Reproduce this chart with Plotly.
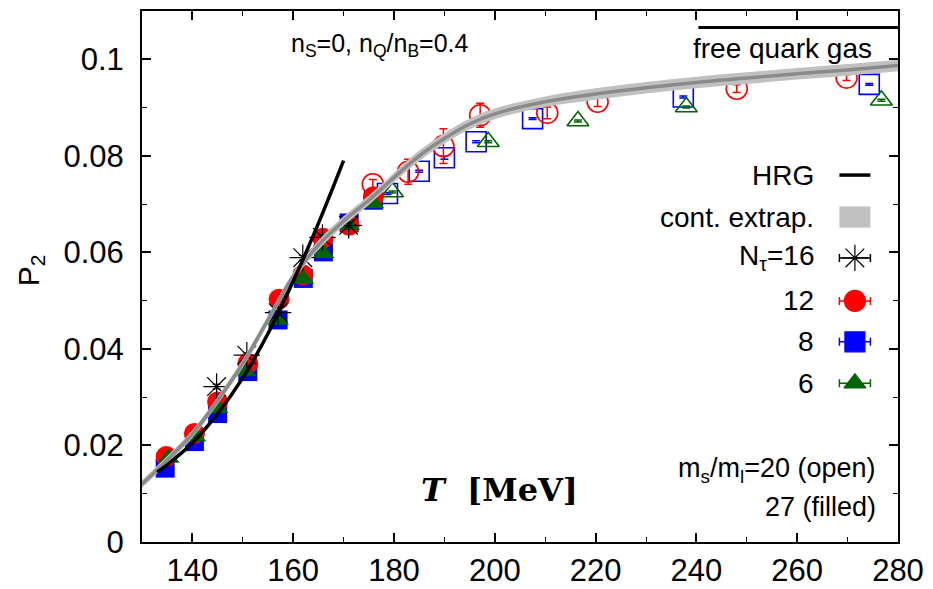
import plotly.graph_objects as go

# ---------------- data ----------------
# continuum extrapolation (band centre and half width)
cont_T = [130, 135, 140, 145, 150, 155, 160, 165, 170, 175, 180, 185, 190, 195, 200,
          210, 220, 230, 240, 250, 260, 270, 280]
cont_P = [0.0120, 0.0170, 0.0224, 0.0293, 0.0370, 0.0460, 0.0550, 0.0615, 0.0665,
          0.0708, 0.0755, 0.0800, 0.0836, 0.0866, 0.0887, 0.0912, 0.0928, 0.0941,
          0.0952, 0.0961, 0.0970, 0.0978, 0.0987]
cont_err = [0.0008, 0.0008, 0.0008, 0.0008, 0.0009, 0.0009, 0.0009, 0.0010, 0.0010,
            0.0010, 0.0010, 0.0011, 0.0011, 0.0011, 0.0011, 0.0011, 0.0012, 0.0012,
            0.0012, 0.0012, 0.0012, 0.0012, 0.0012]

# hadron resonance gas
hrg_T = [133, 135, 140, 145, 150, 155, 160, 165, 170]
hrg_P = [0.0145, 0.0160, 0.0205, 0.0266, 0.0340, 0.0432, 0.0540, 0.0660, 0.0790]

# free quark gas limit
fqg_T = [240.4, 280]
fqg_P = [0.1066, 0.1066]

# ms/ml = 27 (filled)
n16_T = [144.8, 150.8, 157.0, 161.9, 165.8, 171.0]
n16_P = [0.0322, 0.0387, 0.0475, 0.0589, 0.0631, 0.0656]
n16_E = [0.0005, 0.0005, 0.0005, 0.0005, 0.0005, 0.0005]

n12f_T = [134.8, 140.4, 145.0, 151.0, 157.2, 161.9, 165.9, 171.1, 175.9]
n12f_P = [0.0177, 0.0225, 0.0290, 0.0370, 0.0503, 0.0553, 0.0629, 0.0656, 0.0715]
n12f_E = [0.0003, 0.0003, 0.0003, 0.0003, 0.0003, 0.0003, 0.0003, 0.0003, 0.0003]

n8f_T = [134.6, 140.4, 145.0, 151.0, 157.0, 162.0, 166.0, 171.1, 175.9]
n8f_P = [0.0153, 0.0208, 0.0266, 0.0353, 0.0460, 0.0546, 0.0601, 0.0661, 0.0708]
n8f_E = [0.0002, 0.0002, 0.0002, 0.0002, 0.0002, 0.0002, 0.0002, 0.0002, 0.0002]

n6f_T = [135.3, 140.6, 145.0, 150.5, 157.0, 162.0, 166.0, 171.1, 175.9]
n6f_P = [0.0174, 0.0218, 0.0277, 0.0353, 0.0460, 0.0545, 0.0598, 0.0656, 0.0701]
n6f_E = [0.0002, 0.0002, 0.0002, 0.0002, 0.0002, 0.0002, 0.0002, 0.0002, 0.0002]

# ms/ml = 20 (open)
n12o_T = [175.8, 182.8, 189.8, 197.1, 210.4, 220.4, 248.0, 269.8]
n12o_P = [0.0741, 0.0767, 0.0820, 0.0884, 0.0889, 0.0912, 0.0939, 0.0962]
n12o_E = [0.0010, 0.0026, 0.0036, 0.0025, 0.0012, 0.0010, 0.0008, 0.0006]

n8o_T = [178.7, 185.0, 190.0, 196.3, 207.5, 237.4, 274.3]
n8o_P = [0.0722, 0.0768, 0.0796, 0.0829, 0.0877, 0.0922, 0.0948]
n8o_E = [0.0002, 0.0002, 0.0003, 0.0002, 0.0002, 0.0002, 0.0002]

n6o_T = [179.7, 198.7, 216.5, 238.0, 276.7]
n6o_P = [0.0725, 0.0829, 0.0872, 0.0901, 0.0915]
n6o_E = [0.0002, 0.0002, 0.0002, 0.0002, 0.0002]

x_range = [130, 280]
y_range = [0, 0.11]
x_ticks = [140, 160, 180, 200, 220, 240, 260, 280]
y_ticks = [0, 0.02, 0.04, 0.06, 0.08, 0.1]
y_ticklabels = ["0", "0.02", "0.04", "0.06", "0.08", "0.1"]

legend_labels = ["HRG", "cont. extrap.", "N<sub>τ</sub>=16", "12", "8", "6"]

# ---------------- styles ----------------
RED = "#ff0000"
BLUE = "#0000ff"
GREEN = "#006400"
SANS = "Liberation Sans, Arial, sans-serif"
SERIF = "DejaVu Serif, Liberation Serif, serif"

fig = go.Figure()

def err(arr, color, width=1.5, cap=4):
    return dict(type="data", array=arr, visible=True, color=color, thickness=width, width=cap)

# open symbols first
fig.add_trace(go.Scatter(x=n8o_T, y=n8o_P, mode="markers", error_y=err(n8o_E, BLUE),
                         marker=dict(symbol="square-open", size=20, color=BLUE, line=dict(width=1.6))))
fig.add_trace(go.Scatter(x=n6o_T, y=n6o_P, mode="markers", error_y=err(n6o_E, GREEN),
                         marker=dict(symbol="triangle-up-open", size=19, color=GREEN, line=dict(width=1.6))))
fig.add_trace(go.Scatter(x=n12o_T, y=n12o_P, mode="markers", error_y=err(n12o_E, RED),
                         marker=dict(symbol="circle-open", size=21, color=RED, line=dict(width=1.6))))

# filled symbols
fig.add_trace(go.Scatter(x=n8f_T, y=n8f_P, mode="markers", error_y=err(n8f_E, BLUE),
                         marker=dict(symbol="square", size=19, color=BLUE)))
fig.add_trace(go.Scatter(x=n12f_T, y=n12f_P, mode="markers", error_y=err(n12f_E, RED),
                         marker=dict(symbol="circle", size=21, color=RED)))
fig.add_trace(go.Scatter(x=n6f_T, y=n6f_P, mode="markers", error_y=err(n6f_E, GREEN),
                         marker=dict(symbol="triangle-up", size=19, color=GREEN)))
fig.add_trace(go.Scatter(x=n16_T, y=n16_P, mode="markers", error_y=err(n16_E, "black", 1),
                         marker=dict(symbol="asterisk-open", size=22, color="black",
                                     line=dict(width=1.2, color="black"))))

# continuum band
up = [p + e for p, e in zip(cont_P, cont_err)]
lo = [p - e for p, e in zip(cont_P, cont_err)]
fig.add_trace(go.Scatter(x=cont_T, y=lo, mode="lines", line=dict(width=0, color="#c0c0c0", shape="spline"),
                         hoverinfo="skip"))
fig.add_trace(go.Scatter(x=cont_T, y=up, mode="lines", line=dict(width=0, color="#c0c0c0", shape="spline"),
                         fill="tonexty", fillcolor="#c0c0c0", hoverinfo="skip"))
fig.add_trace(go.Scatter(x=cont_T, y=cont_P, mode="lines",
                         line=dict(width=3.5, color="#8a8a8a", shape="spline")))

# HRG
fig.add_trace(go.Scatter(x=hrg_T, y=hrg_P, mode="lines",
                         line=dict(width=3.5, color="black", shape="spline")))
# free quark gas
fig.add_trace(go.Scatter(x=fqg_T, y=fqg_P, mode="lines", line=dict(width=3, color="black")))

# ---------------- legend (manual, gnuplot style) ----------------
leg_x = 0.943          # symbol centre (fraction of plot width)
leg_half = 0.0205      # half length of sample
leg_y = [0.691, 0.612, 0.535, 0.454, 0.377, 0.299]
txt_x = 0.8915

fig.add_trace(go.Scatter(x=[leg_x - leg_half, leg_x + leg_half], y=[leg_y[0]] * 2, mode="lines",
                         line=dict(color="black", width=3.5), xaxis="x2", yaxis="y2"))
fig.add_shape(type="rect", xref="x domain", yref="y domain",
              x0=leg_x - leg_half, x1=leg_x + leg_half, y0=leg_y[1] - 0.02, y1=leg_y[1] + 0.02,
              fillcolor="#c0c0c0", line=dict(width=0))

leg_styles = [
    ("asterisk-open", "black", 22),
    ("circle", RED, 21),
    ("square", BLUE, 20),
    ("triangle-up", GREEN, 19),
]
for (sym, col, sz), yy in zip(leg_styles, leg_y[2:]):
    fig.add_trace(go.Scatter(
        x=[leg_x], y=[yy], mode="markers", xaxis="x2", yaxis="y2",
        error_x=dict(type="constant", value=leg_half, color=col, thickness=1.5, width=4),
        marker=dict(symbol=sym, size=sz, color=col, line=dict(width=1.2, color=col))))

for lab, yy in zip(legend_labels, leg_y):
    fig.add_annotation(x=txt_x, y=yy, xref="x domain", yref="y domain", text=lab,
                       showarrow=False, xanchor="right", yanchor="middle",
                       font=dict(family=SANS, size=28, color="black"))

# ---------------- annotations ----------------
def note(x, y, text, xanchor="center", ref="x domain", yref="y domain", **kw):
    fig.add_annotation(x=x, y=y, xref=ref, yref=yref, text=text, showarrow=False,
                       xanchor=xanchor, yanchor="middle", **kw)

note(0.315, 0.936, "n<sub>S</sub>=0, n<sub>Q</sub>/n<sub>B</sub>=0.4",
     font=dict(family=SANS, size=25, color="black"))
note(0.8466, 0.93, "free quark gas", font=dict(family=SANS, size=28, color="black"))
note(0.9735, 0.1356, "m<sub>s</sub>/m<sub>l</sub>=20 (open)", xanchor="right",
     font=dict(family=SANS, size=27, color="black"))
note(0.9735, 0.0659, "27 (filled)", xanchor="right",
     font=dict(family=SANS, size=27, color="black"))
note(0.4735, 0.098, "<b><i>T</i>  [MeV]</b>", font=dict(family=SERIF, size=32, color="black"))
note(-0.148, 0.512, "P<sub>2</sub>", ref="paper", yref="paper", textangle=-90,
     font=dict(family=SANS, size=30, color="black"))

axis_common = dict(showline=True, linecolor="black", linewidth=2, mirror="allticks",
                   ticks="inside", ticklen=9, tickwidth=1.5, tickcolor="black",
                   showgrid=False, zeroline=False, automargin=False,
                   tickfont=dict(family=SANS, size=31, color="black"))

fig.update_layout(
    width=933, height=589,
    margin=dict(l=142, r=35, t=11, b=47, autoexpand=False),
    paper_bgcolor="white", plot_bgcolor="white",
    showlegend=False,
    xaxis=dict(range=x_range, tickvals=x_ticks, ticklabelstandoff=0,
               minor=dict(dtick=10, ticks="inside", ticklen=5, tickwidth=1.2, tickcolor="black"),
               **axis_common),
    yaxis=dict(range=y_range, tickvals=y_ticks, ticktext=y_ticklabels, ticklabelstandoff=10,
               minor=dict(dtick=0.01, ticks="inside", ticklen=5, tickwidth=1.2, tickcolor="black"),
               **axis_common),
    xaxis2=dict(range=[0, 1], overlaying="x", visible=False, domain=[0, 1]),
    yaxis2=dict(range=[0, 1], overlaying="y", visible=False, domain=[0, 1]),
)

fig.write_html("out.html")
